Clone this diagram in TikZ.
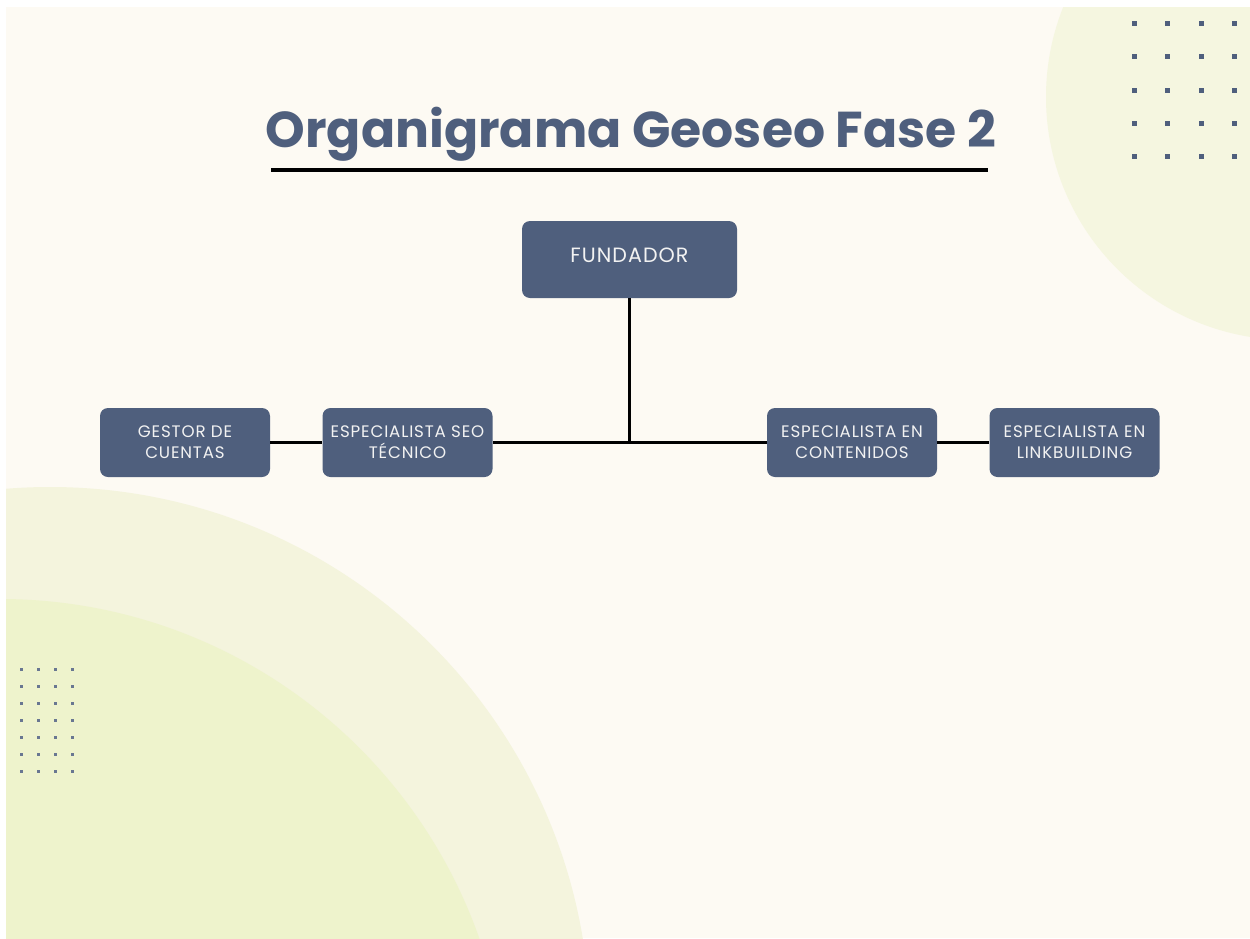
\documentclass[tikz,border=0pt]{standalone}
\usepackage{fontspec}
\setmainfont{Poppins}
\definecolor{cream}{HTML}{FDFAF3}
\definecolor{tr}{HTML}{F5F6E0}
\definecolor{outerc}{HTML}{F4F4DD}
\definecolor{innerc}{HTML}{EEF3CC}
\definecolor{slate}{HTML}{4F5F7D}
\definecolor{boxtext}{HTML}{F2F2F2}
\tikzset{
  box/.style={fill=slate, rounded corners=6pt, text=boxtext, align=center,
    inner sep=0pt, font=\fontsize{12.5}{15.75}\selectfont\addfontfeature{LetterSpace=5}},
  smallbox/.style={box, minimum width=127.5pt, minimum height=51.75pt},
  conn/.style={draw=black, line width=2.4pt},
  dotbig/.style={fill=slate},
}
\begin{document}
\begin{tikzpicture}[x=0.75pt,y=-0.75pt]
\useasboundingbox (0,0) rectangle (1250,939);
\fill[white] (0,0) rectangle (1250,939);
\begin{scope}
  \clip (6,7) rectangle (1250,938);
  \fill[cream] (6,7) rectangle (1250,938);
  \fill[tr] (1289,97) circle[radius=182.25pt];
  \fill[outerc] (50,1027) circle[radius=405pt];
  \fill[innerc] (0,1107) circle[radius=381pt];
\end{scope}
% dots top right
\foreach \x in {1134,1167,1201,1234}{
  \foreach \y in {23,56,90,123,156}{
    \fill[dotbig] (\x-2.5,\y-2.5) rectangle (\x+2.5,\y+2.5);
  }
}
% dots bottom left
\foreach \x in {21,38,55,72}{
  \foreach \y in {669,686,703,720,737,754,771}{
    \fill[slate!85] (\x-1.5,\y-1.5) rectangle (\x+1.5,\y+1.5);
  }
}
% title
\node[text=slate, font=\fontsize{37.8}{40}\bfseries\selectfont] (title) at (631,134) {Organigrama Geoseo Fase 2};
\draw[line width=2.4pt] (271,170) -- (988,170);
% nodes
\node[box, minimum width=161.25pt, minimum height=57.75pt, font=\fontsize{15.5}{18}\selectfont\addfontfeature{LetterSpace=5}] (fund) at (629.5,259.5) {\raisebox{6.75pt}{FUNDADOR}};
\node[smallbox] (gest) at (185,442.5) {GESTOR DE\\CUENTAS};
\node[smallbox] (seo) at (407.5,442.5) {ESPECIALISTA SEO\\TÉCNICO};
\node[smallbox] (cont) at (852,442.5) {ESPECIALISTA EN\\CONTENIDOS};
\node[smallbox] (link) at (1074.5,442.5) {ESPECIALISTA EN\\LINKBUILDING};
\coordinate (j) at (fund.south |- seo.east);
% connectors
\draw[conn] (fund.south) -- (j);
\draw[conn] (seo.east) -- (cont.west);
\draw[conn] (gest.east) -- (seo.west);
\draw[conn] (cont.east) -- (link.west);
\end{tikzpicture}
\end{document}
